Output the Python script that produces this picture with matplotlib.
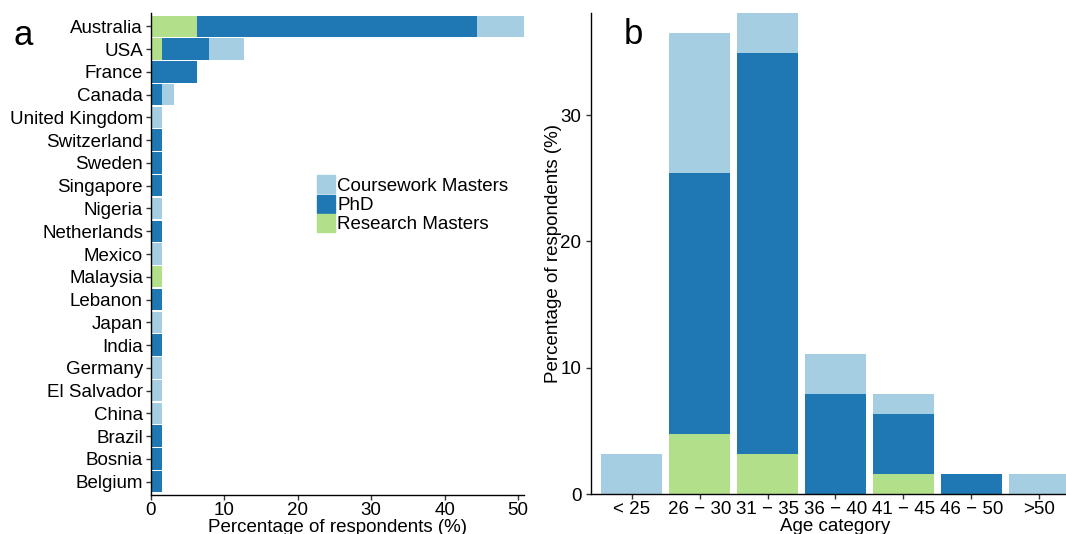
import matplotlib

matplotlib.use("Agg")
import matplotlib.pyplot as plt
import numpy as np
from matplotlib.patches import Patch

plt.rcParams["font.family"] = ["Liberation Sans", "DejaVu Sans"]

# colours for the three degree types
C_CM = "#a6cee3"   # Coursework Masters
C_PHD = "#1f78b4"  # PhD
C_RM = "#b2df8a"   # Research Masters

# panel a: country of study (top to bottom), % of respondents per degree type
countries = ["Australia", "USA", "France", "Canada", "United Kingdom", "Switzerland",
             "Sweden", "Singapore", "Nigeria", "Netherlands", "Mexico", "Malaysia",
             "Lebanon", "Japan", "India", "Germany", "El Salvador", "China", "Brazil",
             "Bosnia", "Belgium"]
country_rm = [6.35, 1.59, 0, 0, 0, 0, 0, 0, 0, 0, 0, 1.59, 0, 0, 0, 0, 0, 0, 0, 0, 0]
country_phd = [38.10, 6.35, 6.35, 1.59, 0, 1.59, 1.59, 1.59, 0, 1.59, 0, 0,
               1.59, 0, 1.59, 0, 0, 0, 1.59, 1.59, 1.59]
country_cm = [6.35, 4.76, 0, 1.59, 1.59, 0, 0, 0, 1.59, 0, 1.59, 0,
              0, 1.59, 0, 1.59, 1.59, 1.59, 0, 0, 0]

# panel b: age category
ages = ["< 25", "26 \u2212 30", "31 \u2212 35", "36 \u2212 40", "41 \u2212 45", "46 \u2212 50", ">50"]
age_rm = [0, 4.76, 3.17, 0, 1.59, 0, 0]
age_phd = [0, 20.63, 31.75, 7.94, 4.76, 1.59, 0]
age_cm = [3.17, 11.11, 3.17, 3.17, 1.59, 0, 1.59]

FS = 13.5


def style(ax):
    for s in ("top", "right"):
        ax.spines[s].set_visible(False)
    for s in ("left", "bottom"):
        ax.spines[s].set_linewidth(1.0)
    ax.tick_params(length=3.5, width=1.0, color="#333333", labelsize=FS, labelcolor="black")


fig = plt.figure(figsize=(10.66, 5.34), dpi=100)

# ---- a: countries ----
axa = fig.add_axes([0.1412, 0.0723, 0.3504, 0.904])
y = np.arange(len(countries))[::-1]
rm = np.array(country_rm)
phd = np.array(country_phd)
cm = np.array(country_cm)
axa.barh(y, rm, height=0.94, color=C_RM)
axa.barh(y, phd, left=rm, height=0.94, color=C_PHD)
axa.barh(y, cm, left=rm + phd, height=0.94, color=C_CM)
axa.set_yticks(y)
axa.set_yticklabels(countries)
axa.set_ylim(-0.6, len(countries) - 0.4)
axa.set_xlim(0, 50.8)
axa.set_xticks([0, 10, 20, 30, 40, 50])
axa.set_xlabel("Percentage of respondents (%)", fontsize=FS, labelpad=0)
style(axa)
axa.tick_params(axis="y", pad=2)
axa.tick_params(axis="x", pad=1)
handles = [Patch(color=C_CM, label="Coursework Masters"),
           Patch(color=C_PHD, label="PhD"),
           Patch(color=C_RM, label="Research Masters")]
axa.legend(handles=handles, loc="upper left", bbox_to_anchor=(0.445, 0.663), frameon=False,
           fontsize=FS, handlelength=1.0, handleheight=1.1, handletextpad=0.1,
           labelspacing=0.0, borderaxespad=0, borderpad=0)
fig.text(0.013, 0.915, "a", fontsize=25, ha="left", va="baseline")

# ---- b: age ----
axb = fig.add_axes([0.5544, 0.0742, 0.4587, 0.9022])
x = np.arange(len(ages))
rm = np.array(age_rm)
phd = np.array(age_phd)
cm = np.array(age_cm)
axb.bar(x, rm, width=0.9, color=C_RM)
axb.bar(x, phd, bottom=rm, width=0.9, color=C_PHD)
axb.bar(x, cm, bottom=rm + phd, width=0.9, color=C_CM)
axb.set_xticks(x)
axb.set_xticklabels(ages)
axb.set_xlim(-0.6, len(ages) - 0.4)
axb.set_ylim(0, 38.1)
axb.set_yticks([0, 10, 20, 30])
axb.set_xlabel("Age category", fontsize=FS, labelpad=0)
axb.set_ylabel("Percentage of respondents (%)", fontsize=FS, labelpad=-1.5)
style(axb)
axb.tick_params(axis="x", pad=1)
fig.text(0.585, 0.917, "b", fontsize=25, ha="left", va="baseline")

fig.savefig("out.png", dpi=100)
